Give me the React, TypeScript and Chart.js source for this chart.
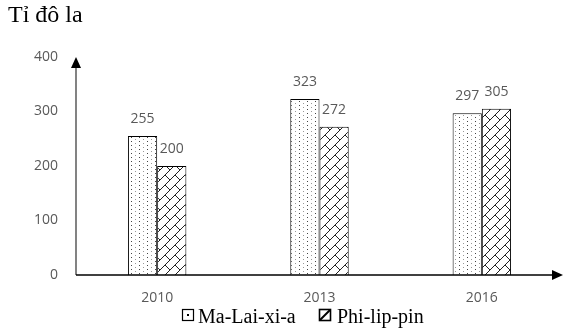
import React, { useEffect, useRef } from "react";
import { Chart, registerables } from "chart.js";
Chart.register(...registerables);

const categories = ["2010", "2013", "2016"];
const malaysiaValues = [255, 323, 297];
const philippinesValues = [200, 272, 305];
const seriesNames = ["Ma-Lai-xi-a", "Phi-lip-pin"];
const yTickValues = [0, 100, 200, 300, 400];
const unitLabel = "Tỉ đô la";

function makeDotPattern(): CanvasPattern | string {
  const c = document.createElement("canvas");
  c.width = 8;
  c.height = 8;
  const g = c.getContext("2d");
  if (!g) return "#fff";
  g.fillStyle = "#ffffff";
  g.fillRect(0, 0, 8, 8);
  g.fillStyle = "#444444";
  g.fillRect(3, 1, 1, 1);
  g.fillRect(3, 5, 1, 1);
  g.fillStyle = "#999999";
  g.fillRect(7, 3, 1, 1);
  g.fillRect(7, 7, 1, 1);
  return g.createPattern(c, "repeat") || "#fff";
}

function makeBrickPattern(): CanvasPattern | string {
  const s = 10;
  const c = document.createElement("canvas");
  c.width = s;
  c.height = s;
  const g = c.getContext("2d");
  if (!g) return "#fff";
  g.fillStyle = "#ffffff";
  g.fillRect(0, 0, s, s);
  g.strokeStyle = "#222222";
  g.lineWidth = 1;
  for (const dx of [-s, 0, s]) {
    for (const dy of [-s, 0, s]) {
      g.beginPath();
      g.moveTo(0 + dx, s + dy);
      g.lineTo(s + dx, 0 + dy);
      g.moveTo(s / 2 + dx, s / 2 + dy);
      g.lineTo(s + dx, s + dy);
      g.stroke();
    }
  }
  return g.createPattern(c, "repeat") || "#fff";
}

const decorPlugin = {
  id: "decor",
  afterDraw(chart: any) {
    const ctx = chart.ctx as CanvasRenderingContext2D;
    const area = chart.chartArea;
    const x0 = area.left;
    const y0 = area.bottom;
    ctx.save();
    // y axis with arrow
    ctx.strokeStyle = "#404040";
    ctx.lineWidth = 1.3;
    ctx.beginPath();
    ctx.moveTo(x0, y0);
    ctx.lineTo(x0, area.top + 8);
    ctx.stroke();
    ctx.fillStyle = "#000";
    ctx.beginPath();
    ctx.moveTo(x0, area.top);
    ctx.lineTo(x0 - 5, area.top + 11);
    ctx.lineTo(x0 + 5, area.top + 11);
    ctx.closePath();
    ctx.fill();
    // x axis with arrow
    ctx.strokeStyle = "#000";
    ctx.beginPath();
    ctx.moveTo(x0, y0);
    ctx.lineTo(area.right - 8, y0);
    ctx.stroke();
    ctx.beginPath();
    ctx.moveTo(area.right, y0);
    ctx.lineTo(area.right - 11, y0 - 5);
    ctx.lineTo(area.right - 11, y0 + 5);
    ctx.closePath();
    ctx.fill();

    // value labels
    ctx.font = "14px 'Open Sans'";
    ctx.fillStyle = "#595959";
    ctx.textAlign = "center";
    ctx.textBaseline = "alphabetic";
    chart.data.datasets.forEach((ds: any, i: number) => {
      const meta = chart.getDatasetMeta(i);
      meta.data.forEach((el: any, j: number) => {
        ctx.fillText(String(ds.data[j]), el.x, el.y - 13);
      });
    });

    // title
    ctx.font = "24px 'Liberation Serif'";
    ctx.fillStyle = "#000";
    ctx.textAlign = "left";
    ctx.fillText(unitLabel, 8, 22);

    // legend
    ctx.font = "20px 'Liberation Serif'";
    const by = 309;
    ctx.strokeStyle = "#000";
    ctx.lineWidth = 1.2;
    ctx.strokeRect(182.5, by + 0.5, 11, 11);
    ctx.fillStyle = "#000";
    ctx.fillRect(187, by + 5, 2, 2);
    ctx.fillText(seriesNames[0], 198, 323);
    ctx.lineWidth = 1.6;
    ctx.strokeRect(319.5, by + 0.5, 11, 11);
    ctx.lineWidth = 2;
    ctx.beginPath();
    ctx.moveTo(320, by + 11);
    ctx.lineTo(330, by + 1);
    ctx.stroke();
    ctx.fillText(seriesNames[1], 337, 323);
    ctx.restore();
  },
};

export default function App() {
  const ref = useRef<HTMLCanvasElement>(null);
  useEffect(() => {
    if (!ref.current) return;
    const dots = makeDotPattern();
    const bricks = makeBrickPattern();
    const chart = new Chart(ref.current, {
      type: "bar",
      data: {
        labels: categories,
        datasets: [
          {
            label: seriesNames[0],
            data: malaysiaValues,
            backgroundColor: dots as any,
            borderColor: "#000",
            borderWidth: 1,
            categoryPercentage: 0.36,
            barPercentage: 1,
          },
          {
            label: seriesNames[1],
            data: philippinesValues,
            backgroundColor: bricks as any,
            borderColor: "#000",
            borderWidth: 1,
            categoryPercentage: 0.36,
            barPercentage: 1,
          },
        ],
      },
      options: {
        responsive: false,
        animation: false,
        layout: { padding: { top: 57, left: 0, right: 19, bottom: 0 } },
        plugins: {
          legend: { display: false },
          title: { display: false },
          tooltip: { enabled: false },
        },
        scales: {
          x: {
            grid: { display: false, drawTicks: false },
            border: { display: false },
            ticks: {
              padding: 15,
              color: "#595959",
              font: { family: "'Open Sans'", size: 14 },
            },
            afterFit: (s: any) => {
              s.height = 59;
            },
          },
          y: {
            min: 0,
            max: 400,
            grid: { display: false, drawTicks: false },
            border: { display: false },
            afterBuildTicks: (s: any) => {
              s.ticks = yTickValues.map((v) => ({ value: v }));
            },
            ticks: {
              padding: 18,
              color: "#595959",
              font: { family: "'Open Sans'", size: 14 },
            },
            afterFit: (s: any) => {
              s.width = 76;
            },
          },
        },
      },
      plugins: [decorPlugin],
    });
    return () => chart.destroy();
  }, []);
  return (
    <div style={{ position: "fixed", left: 0, top: 0, width: 582, height: 334, background: "#fff" }}>
      <canvas ref={ref} width={582} height={334} />
    </div>
  );
}
